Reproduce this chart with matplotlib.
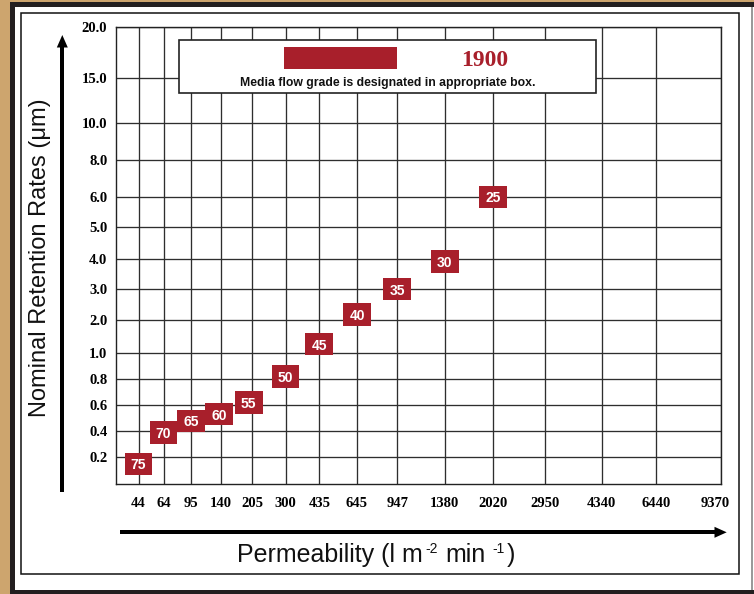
import numpy as np
import matplotlib
matplotlib.use('Agg')
import matplotlib.pyplot as plt
from matplotlib.patches import Rectangle, Polygon
from matplotlib.transforms import ScaledTranslation

# ---------------- data ----------------
grades = [75, 70, 65, 60, 55, 50, 45, 40, 35, 30, 25]
permeability = [44, 64, 95, 137, 198, 300, 435, 645, 947, 1380, 2020]
retention = [0.15, 0.39, 0.48, 0.53, 0.62, 0.82, 1.26, 2.18, 3.0, 3.92, 6.0]

x_ticks = [44, 64, 95, 140, 205, 300, 435, 645, 947, 1380, 2020, 2950, 4340, 6440, 9370]
x_labels = ['44', '64', '95', '140', '205', '300', '435', '645', '947', '1380',
            '2020', '2950', '4340', '6440', '9370']
y_ticks = [0.2, 0.4, 0.6, 0.8, 1.0, 2.0, 3.0, 4.0, 5.0, 6.0, 8.0, 10.0, 15.0, 20.0]
y_labels = ['0.2', '0.4', '0.6', '0.8', '1.0', '2.0', '3.0', '4.0', '5.0', '6.0',
            '8.0', '10.0', '15.0', '20.0']
legend_grade = '1900'
legend_note = 'Media flow grade is designated in appropriate box.'

# ---------------- layout (non-uniform grid of the printed chart) ----------------
W, H = 754, 594
x_min_val = 30
x_anchor_vals = np.array([x_min_val] + x_ticks, dtype=float)
x_anchor_px = np.array([115.7, 138.5, 163.5, 191, 221, 252, 285.5, 319.3, 357,
                        397.3, 444.7, 493, 545, 601.7, 656.3, 720.5])
y_anchor_vals = np.array([0.0] + y_ticks)
y_anchor_px = np.array([484, 457.3, 431.3, 405, 379.3, 352.7, 320, 289.3, 259,
                        226.7, 196.7, 160, 123, 77.7, 26.7])
y_up = 484 - y_anchor_px


def fx(v):
    return np.interp(v, x_anchor_vals, x_anchor_px)


def fxi(p):
    return np.interp(p, x_anchor_px, x_anchor_vals)


def fy(v):
    return np.interp(v, y_anchor_vals, y_up)


def fyi(p):
    return np.interp(p, y_up, y_anchor_vals)


RED = '#A81F2B'
TAN = '#CDA56E'
DARK = '#231F20'
GRID = '#2e2e2e'

fig = plt.figure(figsize=(W / 100, H / 100), dpi=100)
fig.patch.set_facecolor('white')


def R(x0, y0, x1, y1, **kw):
    fig.add_artist(Rectangle((x0 / W, 1 - y1 / H), (x1 - x0) / W, (y1 - y0) / H,
                             transform=fig.transFigure, **kw))


def P(pts, **kw):
    fig.add_artist(Polygon([(x / W, 1 - y / H) for x, y in pts], closed=True,
                           transform=fig.transFigure, **kw))


# frame
R(0, 0, 10, H, fc=TAN, ec='none')
R(0, 0, W, 2, fc=TAN, ec='none')
R(10, 2, 15, H, fc=DARK, ec='none')
R(10, 2, W, 6.7, fc=DARK, ec='none')
R(10, 590, W, H, fc=DARK, ec='none')
R(751, 6.7, 752.5, 590, fc='#9a9a9a', ec='none')
R(21, 13.3, 739, 574, fc='none', ec='#111111', lw=1.1)

# axes
left, right, top, bottom = 115.7, 720.5, 26.7, 484
ax = fig.add_axes([left / W, 1 - bottom / H, (right - left) / W, (bottom - top) / H])
ax.set_xscale('function', functions=(fx, fxi))
ax.set_yscale('function', functions=(fy, fyi))
ax.set_xlim(x_min_val, x_ticks[-1])
ax.set_ylim(0, y_ticks[-1])
ax.set_xticks(x_ticks)
ax.set_xticklabels(x_labels, fontfamily='Liberation Serif', fontweight='bold', fontsize=10.5)
ax.set_yticks(y_ticks)
ax.set_yticklabels(y_labels, fontfamily='Liberation Serif', fontweight='bold', fontsize=10.5)
ax.minorticks_off()
ax.tick_params(axis='x', length=0, pad=9.5)
ax.tick_params(axis='y', length=0, pad=6)
ax.grid(True, color=GRID, lw=0.95)
ax.set_axisbelow(True)
for s in ax.spines.values():
    s.set_color('#222222')
    s.set_linewidth(1.0)

lab = ax.get_xticklabels()[-1]
lab.set_transform(lab.get_transform() + ScaledTranslation(-5 / 100, 0, fig.dpi_scale_trans))

# markers
mw, mh = 27.7, 22.3
ry = 0.5 * mh / mw
verts = [(-0.5, -ry), (0.5, -ry), (0.5, ry), (-0.5, ry), (-0.5, -ry)]
ax.scatter(permeability, retention, marker=verts, s=(mw * 0.72) ** 2, c=RED,
           edgecolors='none', zorder=3, clip_on=False)
for g, x, y in zip(grades, permeability, retention):
    ax.text(x, y, str(g), ha='center', va='center_baseline', color='white',
            fontfamily='Liberation Sans', fontweight='bold', fontsize=10, zorder=4)

# legend box
R(179.3, 40, 596, 93.3, fc='white', ec='#222222', lw=1.2, zorder=5)
R(284, 46.7, 397, 69.3, fc=RED, ec='none', zorder=6)
fig.text(484.3 / W, 1 - 60 / H, legend_grade, ha='center', va='center',
         fontfamily='Liberation Serif', fontweight='bold', fontsize=17, color=RED, zorder=7)
fig.text(387.7 / W, 1 - 82.7 / H, legend_note, ha='center', va='center',
         fontfamily='Liberation Sans', fontweight='bold', fontsize=8.8, color='#111111', zorder=7)

# axis arrows
R(60.3, 45, 64.3, 491.7, fc='black', ec='none')
P([(62.3, 35), (56.8, 47.5), (67.8, 47.5)], fc='black', ec='none')
R(120, 530.3, 716, 534.3, fc='black', ec='none')
P([(726.7, 532.3), (714.5, 526.8), (714.5, 537.8)], fc='black', ec='none')

# axis titles
fig.text(40 / W, 1 - 258 / H, 'Nominal Retention Rates (\u03bcm)', rotation=90,
         ha='center', va='center', fontfamily='Liberation Sans', fontsize=17, color='#111111')

base_y = H - 562.3
main_fs, sup_fs = 18, 10
space_pt = 0.278 * main_fs
raise_pt = 6.5
t = fig.text(237 / W, base_y / H, 'Permeability (l m', ha='left', va='baseline',
             fontfamily='Liberation Sans', fontsize=main_fs, color='#111111')
pieces = [('-2', sup_fs, 2.0, raise_pt),
          ('min', main_fs, space_pt, 0),
          ('-1', sup_fs, space_pt, raise_pt),
          (')', main_fs, 1.5, 0)]
prev = t
for s, fs, dx, dy in pieces:
    prev = plt.annotate(
        s, xy=(1, base_y), xycoords=(prev, 'figure pixels'),
        xytext=(dx, dy), textcoords='offset points', ha='left', va='baseline',
        fontfamily='Liberation Sans', fontsize=fs, color='#111111',
        annotation_clip=False)

fig.savefig('out.png', dpi=100, facecolor=fig.get_facecolor())
